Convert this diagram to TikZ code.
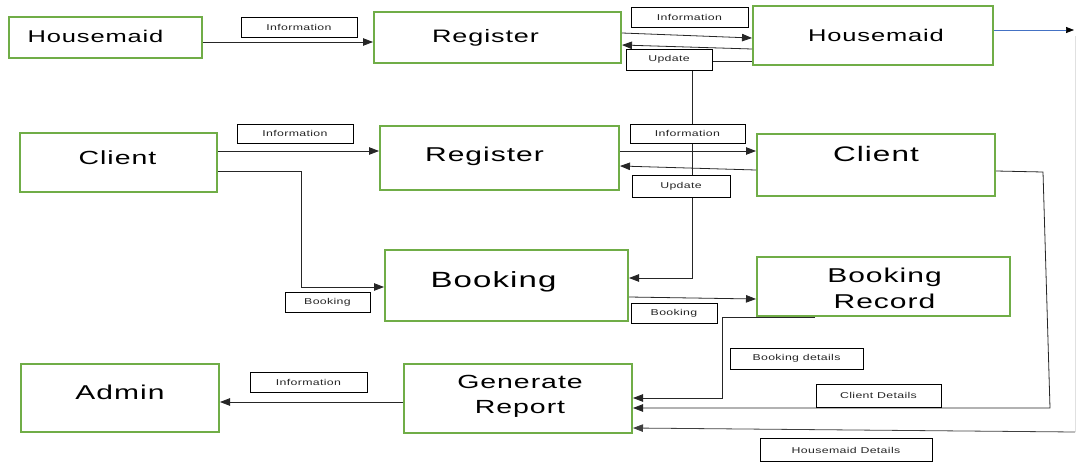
\documentclass[tikz,border=0pt]{standalone}
\usepackage{fontspec}
\setmainfont{Liberation Sans}
\newfontfamily\bigf[FakeStretch=1.5,LetterSpace=5]{Liberation Sans}
\newfontfamily\smallf[FakeStretch=1.45,LetterSpace=4]{Liberation Sans}
\usetikzlibrary{arrows.meta}
\definecolor{boxgreen}{HTML}{70AD47}
\definecolor{linkblue}{HTML}{4472C4}
\tikzset{
  gbox/.style={draw=boxgreen, line width=2pt, rectangle, inner sep=0pt, fill=white},
  tbox/.style={draw=black, line width=0.9pt, rectangle, inner sep=0pt, fill=white,
    font=\smallf\fontsize{8.5}{10}\selectfont, text=black!85},
  arr/.style={draw=black!85, line width=0.8pt, -{Triangle[length=10pt,width=7.5pt]}},
  ln/.style={draw=black!85, line width=0.8pt},
  big/.style={font=\bigf\fontsize{#1}{#1}\selectfont, text=black},
  twol/.style={font=\bigf\fontsize{#1}{#1}\selectfont, text=black, align=center}
}
\begin{document}
\begin{tikzpicture}[x=1pt,y=-1pt]
\useasboundingbox (0,0) rectangle (1077,461);

% green boxes
\node[gbox, minimum width=193pt, minimum height=41pt,
  label={[name=hm1t, big=17, xshift=-10pt, yshift=1pt]center:Housemaid}] (hm1) at (105.5,37.5) {};
\node[gbox, minimum width=247pt, minimum height=51pt,
  label={[name=reg1t, big=18, xshift=-12pt, yshift=0pt]center:Register}] (reg1) at (497.5,37.5) {};
\node[gbox, minimum width=240pt, minimum height=59pt,
  label={[name=hm2t, big=17, xshift=3pt, yshift=0pt]center:Housemaid}] (hm2) at (873,35.5) {};
\node[gbox, minimum width=197pt, minimum height=59pt,
  label={[name=cl1t, big=19, xshift=-1pt, yshift=5pt]center:Client}] (cl1) at (118.5,162.5) {};
\node[gbox, minimum width=239pt, minimum height=64pt,
  label={[name=reg2t, big=20, xshift=-15pt, yshift=2pt]center:Register}] (reg2) at (499.5,158) {};
\node[gbox, minimum width=238pt, minimum height=62pt,
  label={[name=cl2t, big=21, xshift=0pt, yshift=11pt]center:Client}] (cl2) at (876,165) {};
\node[gbox, minimum width=243pt, minimum height=71pt,
  label={[name=bookt, big=22, xshift=-13pt, yshift=4pt]center:Booking}] (book) at (506.5,285.5) {};
\node[gbox, minimum width=253pt, minimum height=59pt,
  label={[name=brect, twol=20, xshift=1pt, yshift=-2pt]center:Booking\\[6pt]Record}] (brec) at (883.5,286.5) {};
\node[gbox, minimum width=198pt, minimum height=68pt,
  label={[name=admint, big=20, xshift=0pt, yshift=6pt]center:Admin}] (admin) at (120,398) {};
\node[gbox, minimum width=228pt, minimum height=69pt,
  label={[name=gent, twol=19, xshift=2pt, yshift=2pt]center:Generate\\[6pt]Report}] (gen) at (518,398.5) {};

% junction coordinates
\coordinate (j1) at (692,278);
\coordinate (j2) at (301,287);
\coordinate (j3) at (722,398);
\coordinate (j4) at (1043,172);
\coordinate (j5) at (1050,408);
\coordinate (j6) at (1074,30);
\coordinate (j7) at (1075,36);
\coordinate (j8) at (1075,432);

% connectors
\draw[arr] (hm1.east |- 0,42) -- (reg1.west |- 0,42);
\draw[arr] (reg1.east |- 0,33) -- (hm2.west |- 0,38);
\draw[arr] (hm2.west |- 0,49) -- (reg1.east |- 0,45);
\draw[arr] (hm2.west |- 0,61) -| (j1) -- (book.east |- j1);
\draw[arr] (cl1.east |- 0,151) -- (reg2.west |- 0,151);
\draw[arr] (reg2.east |- 0,151) -- (cl2.west |- 0,151);
\draw[arr] (cl2.west |- 0,170) -- (reg2.east |- 0,166);
\draw[arr] (cl1.east |- 0,171) -| (j2) -- (book.west |- j2);
\draw[arr] (book.east |- 0,297) -- (brec.west |- 0,299);
\draw[arr] (brec.south -| 815,0) -| (j3) -- (gen.east |- j3);
\draw[arr] (cl2.east |- 0,171) -- (j4) -- (j5) -- (gen.east |- 0,408);
\draw[draw=linkblue, line width=0.7pt, -{Triangle[length=8pt,width=6pt,black]}] (hm2.east |- 0,30) -- (j6);
\draw[ln, draw=black!12] (j7) -- (j8);
\draw[arr, draw=black!75] (j8) -- (gen.east |- 0,428);
\draw[arr] (gen.west |- 0,402) -- (admin.east |- 0,402);

% label boxes
\node[tbox, minimum width=116pt, minimum height=20pt] (li1) at (299,27) {Information};
\node[tbox, minimum width=117pt, minimum height=20pt] (li2) at (689.5,17) {Information};
\node[tbox, minimum width=86pt, minimum height=21pt] (lu1) at (669,59.5) {Update};
\node[tbox, minimum width=116pt, minimum height=19pt] (li3) at (295,133.5) {Information};
\node[tbox, minimum width=115pt, minimum height=19pt] (li4) at (687.5,133.5) {Information};
\node[tbox, minimum width=98pt, minimum height=22pt] (lu2) at (681,186) {Update};
\node[tbox, minimum width=85pt, minimum height=20pt] (lb1) at (327.5,302) {Booking};
\node[tbox, minimum width=86pt, minimum height=20pt] (lb2) at (674,313) {Booking};
\node[tbox, minimum width=133pt, minimum height=21pt] (lbd) at (796.5,358.5) {Booking details};
\node[tbox, minimum width=125pt, minimum height=23pt] (lcd) at (878.5,395.5) {Client Details};
\node[tbox, minimum width=172pt, minimum height=23pt] (lhd) at (846,450) {Housemaid Details};
\node[tbox, minimum width=117pt, minimum height=20pt] (li5) at (308.5,382) {Information};
\end{tikzpicture}
\end{document}
